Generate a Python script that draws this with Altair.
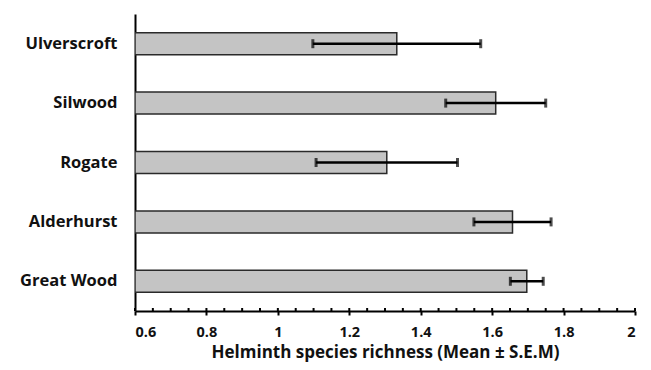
import altair as alt
import pandas as pd

sites = ["Ulverscroft", "Silwood", "Rogate", "Alderhurst", "Great Wood"]
means = [1.333, 1.610, 1.305, 1.657, 1.697]
sems = [0.235, 0.140, 0.198, 0.108, 0.046]
major_ticks = [0.6, 0.8, 1.0, 1.2, 1.4, 1.6, 1.8, 2.0]
all_ticks = [round(0.6 + 0.05 * i, 2) for i in range(29)]

df = pd.DataFrame({"site": sites, "mean": means, "sem": sems})
df["lo"] = df["mean"] - df["sem"]
df["hi"] = df["mean"] + df["sem"]
ticks_df = pd.DataFrame({"t": all_ticks})

FONT = "Open Sans"
H = 297

y = alt.Y("site:N", sort=sites, title=None,
          scale=alt.Scale(paddingInner=0.63, paddingOuter=0.315),
          axis=alt.Axis(domainColor="black", domainWidth=2, ticks=False,
                        labelFont=FONT, labelFontWeight="bold", labelFontSize=16.5,
                        labelColor="#111", labelPadding=18))

x_axis = alt.Axis(values=major_ticks,
                  labelExpr="datum.value == 1 || datum.value == 2 ? format(datum.value, 'd') : format(datum.value, '.1f')",
                  domainColor="black", domainWidth=2, tickColor="black", tickWidth=2,
                  tickSize=4,
                  grid=False, labelFont=FONT, labelFontWeight="bold", labelFontSize=14.5,
                  labelColor="#111", labelPadding=10,
                  title="Helminth species richness (Mean ± S.E.M)",
                  titleFont=FONT, titleFontWeight="bold", titleFontSize=17,
                  titleColor="#111", titlePadding=6)

xs = alt.Scale(domain=[0.6, 2.0], nice=False, zero=False)

base = alt.Chart(df)
bars = base.mark_bar(fill="#c4c4c4", stroke="#2a2a2a", strokeWidth=1.5, clip=True).encode(
    y=y,
    x=alt.X("mean:Q", scale=xs, axis=x_axis),
    x2=alt.datum(0.6),
)
err = base.mark_rule(color="black", strokeWidth=2.5).encode(
    y=alt.Y("site:N", sort=sites), x="lo:Q", x2="hi:Q")
cap_lo = base.mark_tick(color="black", thickness=3, size=9).encode(
    y=alt.Y("site:N", sort=sites), x="lo:Q")
cap_hi = base.mark_tick(color="black", thickness=3, size=9).encode(
    y=alt.Y("site:N", sort=sites), x="hi:Q")
inner_ticks = alt.Chart(ticks_df).mark_rule(color="black", strokeWidth=2).encode(
    x="t:Q", y=alt.value(H - 3), y2=alt.value(H))

chart = alt.layer(bars, err, cap_lo, cap_hi, inner_ticks).properties(
    width=500, height=H,
    background="white",
    autosize=alt.AutoSizeParams(type="none"),
    padding={"left": 135, "top": 14, "right": 16, "bottom": 59},
).configure_view(stroke="transparent", strokeWidth=0)

chart.save("out.html", embed_options={"renderer": "svg", "actions": False})
